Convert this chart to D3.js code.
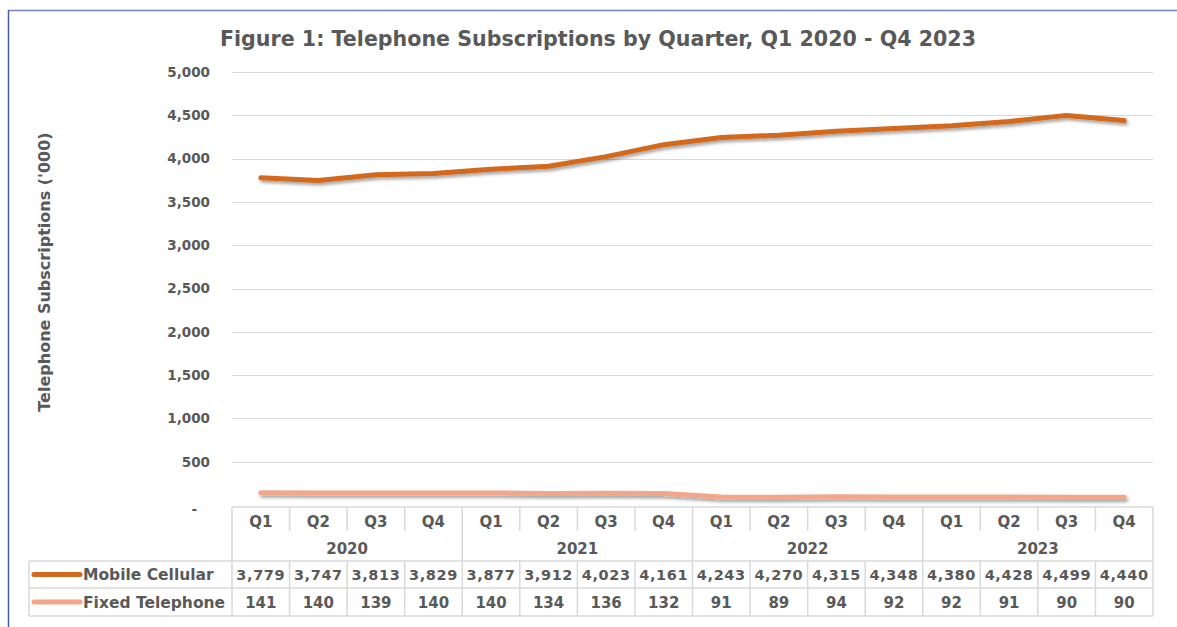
<!DOCTYPE html>
<html lang="en">
<head>
<meta charset="UTF-8">
<title>Telephone Subscriptions</title>
<style>
  body { margin: 0; background: #fff; }
  svg { display: block; font-family: "DejaVu Sans", sans-serif; }
</style>
</head>
<body>
<svg class="chart"></svg>
<script src="https://cdnjs.cloudflare.com/ajax/libs/d3/7.8.5/d3.min.js"></script>
<script>
const quarters = ['Q1','Q2','Q3','Q4','Q1','Q2','Q3','Q4','Q1','Q2','Q3','Q4','Q1','Q2','Q3','Q4'];
const years = ['2020','2021','2022','2023'];
const mobile = [3779, 3747, 3813, 3829, 3877, 3912, 4023, 4161, 4243, 4270, 4315, 4348, 4380, 4428, 4499, 4440];
const fixed = [141, 140, 139, 140, 140, 134, 136, 132, 91, 89, 94, 92, 92, 91, 90, 90];
const yTicks = [0, 500, 1000, 1500, 2000, 2500, 3000, 3500, 4000, 4500, 5000];
const seriesNames = ['Mobile Cellular', 'Fixed Telephone'];
const seriesColors = ['#d2691f', '#f2a68a'];

const W = 1177, H = 627;
const plotL = 232, plotR = 1153, plotT = 72, plotB = 505;
const textCol = '#595959';
const gridCol = '#d9d9d9';

const svg = d3.select('.chart').attr('width', W).attr('height', H);

const defs = svg.append('defs');
const sh = defs.append('filter').attr('id', 'shadow')
  .attr('x', '-5%').attr('y', '-50%').attr('width', '110%').attr('height', '300%');
sh.append('feDropShadow').attr('dx', 1.5).attr('dy', 2.5).attr('stdDeviation', 1.5)
  .attr('flood-color', '#000').attr('flood-opacity', 0.35);

// outer frame
svg.append('line').attr('x1', 8.5).attr('x2', W).attr('y1', 10.5).attr('y2', 10.5)
  .attr('stroke', '#7282bb').attr('stroke-width', 1.5);
svg.append('line').attr('x1', 8.5).attr('x2', 8.5).attr('y1', 10).attr('y2', H)
  .attr('stroke', '#4659a6').attr('stroke-width', 1.5);

// scales
const x = d3.scaleBand().domain(d3.range(quarters.length)).range([plotL, plotR]);
const y = d3.scaleLinear().domain([0, 5000]).range([plotB, plotT]);

// grid + y axis
const yAxis = d3.axisLeft(y).tickValues(yTicks)
  .tickFormat(d => d === 0 ? '-' : d3.format(',')(d))
  .tickSize(0).tickPadding(22);
const ya = svg.append('g').attr('transform', `translate(${plotL},0)`).call(yAxis);
ya.select('.domain').remove();
ya.selectAll('text').attr('fill', textCol).attr('font-size', 13.5).attr('font-weight', 'bold')
  .attr('font-family', '"DejaVu Sans", sans-serif');
ya.selectAll('.tick').filter(d => d === 0).select('text').attr('dx', -13).attr('dy', '0.6em');

svg.append('g').selectAll('line').data(yTicks.filter(d => d > 0)).join('line')
  .attr('x1', plotL).attr('x2', plotR)
  .attr('y1', d => Math.round(y(d)) + 0.5).attr('y2', d => Math.round(y(d)) + 0.5)
  .attr('stroke', gridCol).attr('stroke-width', 1.2);

// title
svg.append('text').attr('x', 598).attr('y', 46).attr('text-anchor', 'middle')
  .attr('fill', textCol).attr('font-size', 20.6).attr('font-weight', 'bold')
  .text('Figure 1: Telephone Subscriptions by Quarter, Q1 2020 - Q4 2023');

svg.append('text').attr('transform', `translate(50,272) rotate(-90)`)
  .attr('text-anchor', 'middle').attr('fill', textCol)
  .attr('font-size', 16).attr('font-weight', 'bold')
  .text("Telephone Subscriptions ('000)");

// lines
const line = d3.line().x((d, i) => x(i) + x.bandwidth() / 2).y(d => y(d));
[mobile, fixed].forEach((s, k) => {
  svg.append('path').datum(s).attr('d', line)
    .attr('fill', 'none').attr('stroke', seriesColors[k]).attr('stroke-width', 5)
    .attr('stroke-linecap', 'round').attr('stroke-linejoin', 'round')
    .attr('filter', 'url(#shadow)');
});

// data table
const rowY = [507, 535, 561, 588, 616];
const tcol = '#d9d9d9';
const tg = svg.append('g').attr('stroke', tcol).attr('stroke-width', 1.5);
tg.append('line').attr('x1', plotL).attr('x2', plotR).attr('y1', rowY[0]).attr('y2', rowY[0]);
tg.append('line').attr('x1', 29).attr('x2', plotR).attr('y1', rowY[2]).attr('y2', rowY[2]);
tg.append('line').attr('x1', 29).attr('x2', plotR).attr('y1', rowY[3]).attr('y2', rowY[3]);
tg.append('line').attr('x1', 29).attr('x2', plotR).attr('y1', rowY[4]).attr('y2', rowY[4]);
tg.append('line').attr('x1', 29).attr('x2', 29).attr('y1', rowY[2]).attr('y2', rowY[4]);
d3.range(quarters.length + 1).forEach(i => {
  const xx = plotL + i * x.bandwidth();
  const full = i % 4 === 0;
  tg.append('line').attr('x1', xx).attr('x2', xx)
    .attr('y1', rowY[0]).attr('y2', full ? rowY[4] : rowY[1] - 4);
  if (!full) {
    tg.append('line').attr('x1', xx).attr('x2', xx).attr('y1', rowY[2]).attr('y2', rowY[4]);
  }
});

const cellText = (xx, yy, t, anchor) => svg.append('text').attr('x', xx).attr('y', yy)
  .attr('text-anchor', anchor || 'middle').attr('fill', textCol)
  .attr('font-size', 15).attr('font-weight', 'bold').text(t);

quarters.forEach((q, i) => cellText(x(i) + x.bandwidth() / 2, 527, q));
years.forEach((yr, j) => cellText(plotL + (j * 4 + 2) * x.bandwidth(), 554, yr));
mobile.forEach((v, i) => cellText(x(i) + x.bandwidth() / 2, 580, d3.format(',')(v))
  .attr('font-size', 14.5).attr('letter-spacing', 0.6));
fixed.forEach((v, i) => cellText(x(i) + x.bandwidth() / 2, 608, v));

seriesNames.forEach((n, k) => {
  const yy = [574.5, 602][k];
  svg.append('line').attr('x1', 34).attr('x2', 80).attr('y1', yy).attr('y2', yy)
    .attr('stroke', seriesColors[k]).attr('stroke-width', 5).attr('stroke-linecap', 'round');
  cellText(83, yy + 5.5, n, 'start').attr('font-size', 15.5);
});
</script>
</body>
</html>
